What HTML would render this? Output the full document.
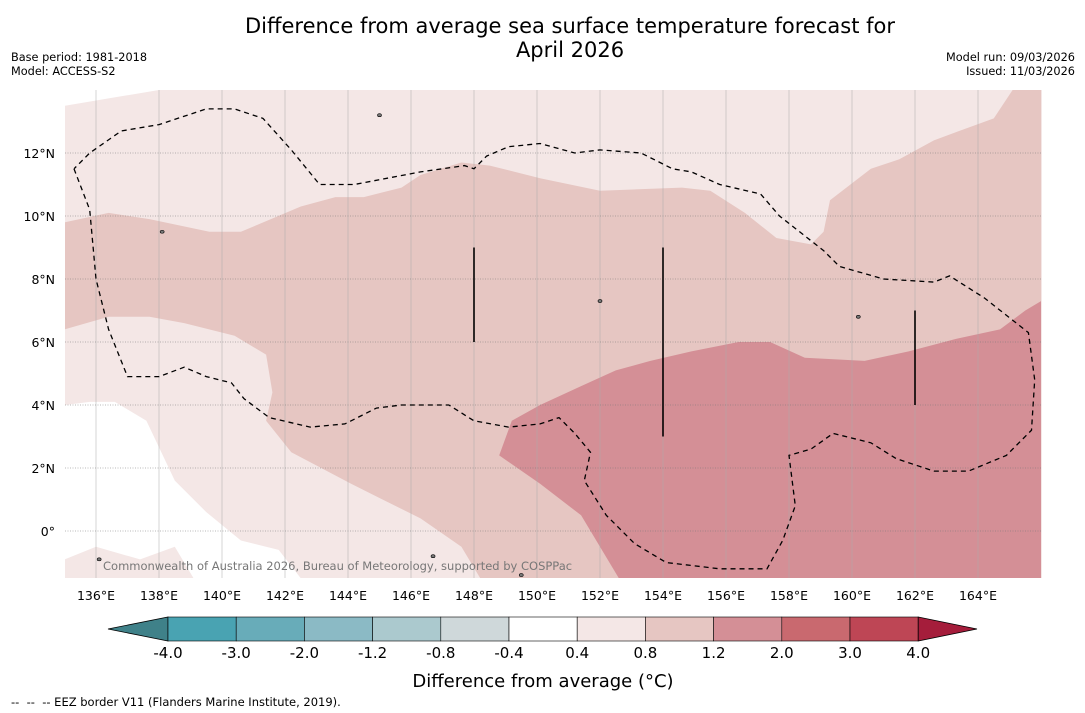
<!DOCTYPE html>
<html><head><meta charset="utf-8"><style>
body{margin:0;background:#fff;font-family:"DejaVu Sans","Liberation Sans",sans-serif;}
#wrap{position:relative;width:1085px;height:713px;overflow:hidden;}
.t{position:absolute;white-space:nowrap;}
svg text{font-family:"DejaVu Sans","Liberation Sans",sans-serif;}
</style></head><body>
<div id="wrap">
<div class="t" style="left:0;width:1140px;text-align:center;top:14px;font-size:21px;line-height:24px;">Difference from average sea surface temperature forecast for<br>April 2026</div>
<div class="t" style="left:11px;top:51px;font-size:11.3px;line-height:14px;">Base period: 1981-2018<br>Model: ACCESS-S2</div>
<div class="t" style="right:10px;top:51px;font-size:11.3px;line-height:14px;text-align:right;">Model run: 09/03/2026<br>Issued: 11/03/2026</div>
<svg id="svg" width="1085" height="713" style="position:absolute;left:0;top:0"></svg>
<div class="t" style="left:11px;top:695px;font-size:11.5px;">-- &nbsp;-- &nbsp;-- EEZ border V11 (Flanders Marine Institute, 2019).</div>
</div>
<script>
const lonTicks=[136,138,140,142,144,146,148,150,152,154,156,158,160,162,164];
const latTicks=[0,2,4,6,8,10,12];
const cbLevels=["-4.0","-3.0","-2.0","-1.2","-0.8","-0.4","0.4","0.8","1.2","2.0","3.0","4.0"];
const cbColors=["#49a3b2","#68acb9","#8bbac5","#abc9ce","#cfd8da","#ffffff","#f4e7e6","#e6c6c2","#d48f96","#c9696f","#be4655"];
const whiteTopLeft=[[135,13.5],[136.8,13.8],[138,14],[135,14]];
const whiteLowerLeft=[[135,4.0],[135.8,4.1],[136.6,4.1],[137.6,3.5],[138.5,1.6],[139.5,0.6],[140.6,-0.3],[141.8,-0.6],[142.5,-1.5],[135,-1.5]];
const pinkPatch=[[135,-0.9],[136,-0.5],[137.4,-0.9],[138.5,-0.5],[139.1,-1.5],[135,-1.5]];
const contour08=[[135,9.8],[136.4,10.1],[137.7,9.9],[139.6,9.5],[140.6,9.5],[142.5,10.3],[143.6,10.6],[144.5,10.6],[145.7,10.9],[146.3,11.3],[147.6,11.7],[148.5,11.6],[150.1,11.2],[152,10.8],[154.6,10.9],[155.5,10.8],[156.6,10.1],[157.6,9.3],[158.7,9.1],[159.1,9.5],[159.3,10.5],[160.6,11.5],[161.5,11.8],[162.6,12.4],[163.4,12.7],[164.5,13.1],[165.1,14],[166,14],[166,-1.5],[148.2,-1.5],[147.6,-0.5],[146.3,0.4],[144.1,1.5],[142.2,2.5],[141.4,3.5],[141.6,4.4],[141.4,5.6],[140.4,6.2],[138.8,6.6],[137.7,6.8],[136.4,6.8],[135,6.4]];
const contour12=[[148.8,2.4],[149.2,3.5],[150.1,4.0],[151.4,4.6],[152.5,5.1],[153.6,5.4],[154.9,5.7],[156.4,6.0],[157.4,6.0],[158.5,5.5],[160.4,5.4],[161.8,5.7],[163.3,6.1],[164.7,6.4],[165.5,7.0],[166,7.3],[166,-1.5],[152.6,-1.5],[151.4,0.5],[150.1,1.5]];
const eezBorder=[[135.3,11.5],[135.8,10.2],[136,8.0],[136.4,6.4],[137,4.9],[138,4.9],[138.8,5.2],[139.5,4.9],[140.3,4.7],[140.7,4.2],[141.5,3.6],[142.8,3.3],[143.9,3.4],[144.9,3.9],[145.7,4.0],[147.2,4.0],[148,3.5],[149.1,3.3],[150.1,3.4],[150.7,3.6],[151.2,3.1],[151.7,2.5],[151.5,1.6],[152.2,0.5],[153.1,-0.4],[154.1,-1.0],[155.8,-1.2],[157.3,-1.2],[157.8,-0.3],[158.2,0.8],[158,2.4],[158.7,2.6],[159.4,3.1],[160.6,2.8],[161.4,2.3],[162.6,1.9],[163.7,1.9],[164.9,2.4],[165.7,3.2],[165.8,4.8],[165.6,6.3],[164.2,7.4],[163.1,8.1],[162.6,7.9],[161,8.0],[159.6,8.4],[159.1,8.9],[157.7,10.0],[157.1,10.7],[155.8,11.0],[154.9,11.4],[154.3,11.5],[153.3,12.0],[152,12.1],[151.2,12.0],[150.1,12.3],[149.1,12.2],[148.4,11.9],[148,11.5],[147.7,11.6],[146.3,11.4],[144.2,11.0],[143.1,11.0],[142.2,12.1],[141.3,13.1],[140.4,13.4],[139.5,13.4],[138,12.9],[136.8,12.7],[135.8,12.0],[135.3,11.5]];
const markerLines=[[148,9,6],[154,9,3],[162,7,4]];
const islands=[[145.0,13.2],[138.1,9.5],[152.0,7.3],[160.2,6.8],[146.7,-0.8],[136.1,-0.9],[149.5,-1.4]];

const NS="http://www.w3.org/2000/svg";
const svg=document.getElementById('svg');
const X0=64.5,PX=31.5,Y0=531;
const sx=lon=>X0+(lon-135)*PX, sy=lat=>Y0-lat*PX;
function mk(tag,attrs,parent){const e=document.createElementNS(NS,tag);for(const k in attrs)e.setAttribute(k,attrs[k]);(parent||svg).appendChild(e);return e;}
const pts=a=>a.map(p=>sx(p[0]).toFixed(1)+','+sy(p[1]).toFixed(1)).join(' ');
const defs=mk('defs',{});
const cp=mk('clipPath',{id:'clip'},defs);mk('rect',{x:65,y:90,width:977,height:488},cp);
const g=mk('g',{'clip-path':'url(#clip)'});
let e;
e=mk('rect',{x:65,y:90,width:977,height:488,fill:cbColors[6]},g);

e=mk('polygon',{points:pts(whiteTopLeft),fill:'#fff'},g);

e=mk('polygon',{points:pts(whiteLowerLeft),fill:'#fff'},g);

e=mk('polygon',{points:pts(pinkPatch),fill:cbColors[6]},g);

e=mk('polygon',{points:pts(contour08),fill:cbColors[7]},g);

e=mk('polygon',{points:pts(contour12),fill:cbColors[8]},g);

lonTicks.forEach(l=>{
  e=mk('line',{x1:sx(l),x2:sx(l),y1:90,y2:578,stroke:'#aaa','stroke-width':0.5},g);
  
  e=mk('text',{x:sx(l),y:600,'font-size':12.5,'text-anchor':'middle',fill:'#000'});e.textContent=l+'°E';
  
});
latTicks.forEach(l=>{
  e=mk('line',{x1:65,x2:1042,y1:sy(l),y2:sy(l),stroke:'#777','stroke-width':0.6,'stroke-dasharray':'1,1.5'},g);
  
  e=mk('text',{x:55,y:sy(l)+5,'font-size':12.5,'text-anchor':'end',fill:'#000'});e.textContent=(l===0?'0°':l+'°N');
  
});
e=mk('polyline',{points:pts(eezBorder),fill:'none',stroke:'#000','stroke-width':1.3,'stroke-dasharray':'5,4'},g);

markerLines.forEach(m=>{
  e=mk('line',{x1:sx(m[0]),x2:sx(m[0]),y1:sy(m[1]),y2:sy(m[2]),stroke:'#000','stroke-width':1.6},g);
  
});
islands.forEach(p=>{
  e=mk('ellipse',{cx:sx(p[0]),cy:sy(p[1]),rx:2,ry:1.5,fill:'#777',stroke:'#000','stroke-width':0.6},g);
  
});
e=mk('text',{x:103,y:570,'font-size':11.5,fill:'#777'},g);e.textContent='Commonwealth of Australia 2026, Bureau of Meteorology, supported by COSPPac';

const cbX=168,cbW=68.2,cbY=617,cbH=24;
e=mk('polygon',{points:`108,629 ${cbX},${cbY} ${cbX},${cbY+cbH}`,fill:'#3f8189',stroke:'#000','stroke-width':0.8});

cbColors.forEach((c,i)=>{
  e=mk('rect',{x:cbX+i*cbW,y:cbY,width:cbW,height:cbH,fill:c,stroke:'#000','stroke-width':0.6});
  
});
const cbEnd=cbX+cbColors.length*cbW;
e=mk('polygon',{points:`${cbEnd},${cbY} 977,629 ${cbEnd},${cbY+cbH}`,fill:'#a51d3b',stroke:'#000','stroke-width':0.8});

cbLevels.forEach((t,i)=>{
  e=mk('text',{x:cbX+i*cbW,y:658,'font-size':15,'text-anchor':'middle',fill:'#000'});e.textContent=t;
  
});
e=mk('text',{x:543,y:687,'font-size':18,'text-anchor':'middle',fill:'#000'});e.textContent='Difference from average (°C)';

</script>
</body></html>
